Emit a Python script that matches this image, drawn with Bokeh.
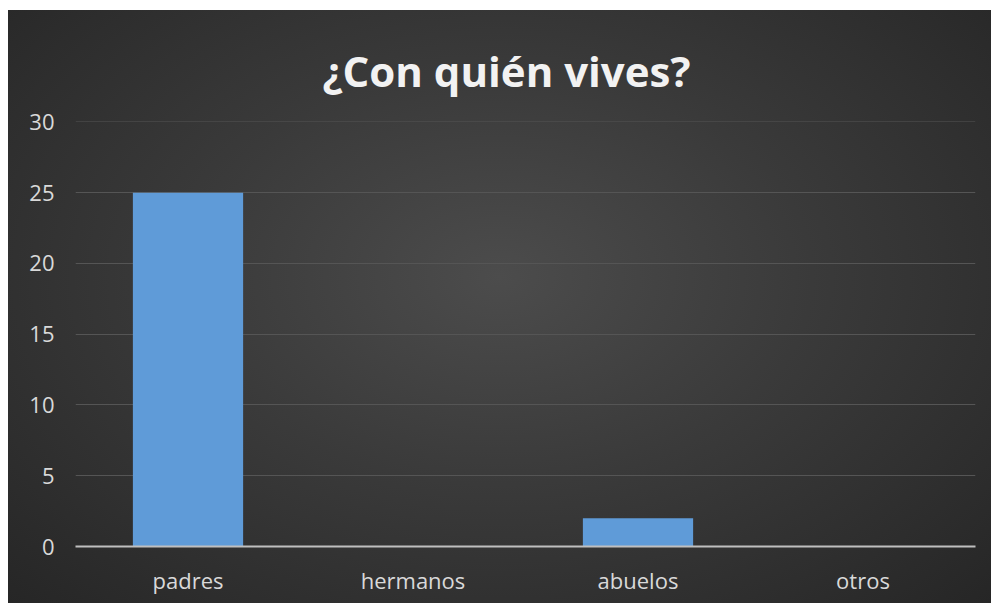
from bokeh.plotting import figure
from bokeh.models import InlineStyleSheet, FactorRange, Range1d, FixedTicker
from bokeh.embed import file_html
from bokeh.resources import INLINE

categories = ["padres", "hermanos", "abuelos", "otros"]
values = [25, 0, 2, 0]
y_ticks = [0, 5, 10, 15, 20, 25, 30]
title_text = "¿Con quién vives?"

p = figure(width=983, height=593, x_range=FactorRange(*categories, range_padding=0),
           y_range=Range1d(0, 30.03), output_backend="svg", toolbar_location=None,
           min_border_left=67, min_border_right=16, min_border_top=111, min_border_bottom=57)
p.margin = (10, 0, 0, 8)

p.stylesheets = [InlineStyleSheet(css=":host { background: radial-gradient(ellipse at 50% 45%, #4c4c4c 0%, #3a3a3a 45%, #262626 100%); }")]
p.border_fill_alpha = 0
p.background_fill_alpha = 0
p.outline_line_color = None

p.vbar(x=categories, top=values, width=0.49, fill_color="#5f9bd8", line_color=None)

p.title.text = title_text
p.title.align = "left"
p.title.offset = 247
p.title.text_color = "#f2f2f2"
p.title.text_font = "Open Sans"
p.title.text_font_size = "42px"
p.title.text_font_style = "bold"
p.title.standoff = 46

p.yaxis.ticker = FixedTicker(ticks=y_ticks)
p.yaxis.axis_line_color = None
p.yaxis.major_tick_line_color = None
p.yaxis.major_tick_out = 0
p.yaxis.minor_tick_line_color = None
p.yaxis.minor_tick_out = 0
p.yaxis.major_label_text_color = "#d9d9d9"
p.yaxis.major_label_text_font = "Open Sans"
p.yaxis.major_label_text_font_size = "22px"
p.yaxis.major_label_standoff = 21

p.xaxis.axis_line_color = "#bfbfbf"
p.xaxis.axis_line_width = 2
p.xaxis.major_tick_line_color = None
p.xaxis.major_tick_out = 0
p.xaxis.minor_tick_line_color = None
p.xaxis.major_label_text_color = "#d9d9d9"
p.xaxis.major_label_text_font = "Open Sans"
p.xaxis.major_label_text_font_size = "22px"
p.xaxis.major_label_standoff = 18

p.xgrid.grid_line_color = None
p.ygrid.grid_line_color = "#555555"
p.ygrid.grid_line_width = 1

open("out.html", "w").write(file_html(p, INLINE))
